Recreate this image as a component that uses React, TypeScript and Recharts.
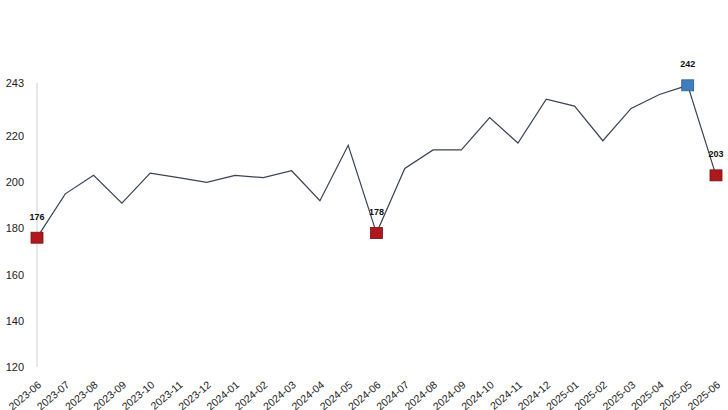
import React from 'react';
import { LineChart, Line, XAxis, YAxis } from 'recharts';

const months = [
  '2023-06', '2023-07', '2023-08', '2023-09', '2023-10', '2023-11', '2023-12',
  '2024-01', '2024-02', '2024-03', '2024-04', '2024-05', '2024-06', '2024-07',
  '2024-08', '2024-09', '2024-10', '2024-11', '2024-12', '2025-01', '2025-02',
  '2025-03', '2025-04', '2025-05', '2025-06',
];
const values = [176, 195, 203, 191, 204, 202, 200, 203, 202, 205, 192, 216, 178, 206, 214, 214, 228, 217, 236, 233, 218, 232, 238, 242, 203];
const markerKinds = ['low', '', '', '', '', '', '', '', '', '', '', '', 'low', '', '', '', '', '', '', '', '', '', '', 'high', 'low'];
const yTicks = [120, 140, 160, 180, 200, 220, 243];

const data = months.map((m, i) => ({ month: m, value: values[i], kind: markerKinds[i] }));

const FONT = '"Liberation Sans", Arial, sans-serif';

const Dot = (props: any) => {
  const { cx, cy, index, payload } = props;
  const kind = payload.kind;
  if (!kind) return <g key={`d${index}`} />;
  const fill = kind === 'high' ? '#3b7fc0' : '#b3161b';
  const stroke = kind === 'high' ? '#2a5f93' : '#7a0f12';
  return (
    <g key={`d${index}`}>
      <rect x={cx - 6} y={cy - 5.5} width={12} height={11} fill={fill} stroke={stroke} strokeWidth={0.8} />
      <text x={cx} y={cy - 18} textAnchor="middle" fontSize={9} fontWeight="bold" fill="#111" fontFamily={FONT}>
        {payload.value}
      </text>
    </g>
  );
};

const XTick = (props: any) => {
  const { x, payload } = props;
  return (
    <g transform={`translate(${x + 5},${386})`}>
      <text x={0} y={0} textAnchor="end" transform="rotate(-40)" fontSize={10.5} fill="#222" fontFamily={FONT}>
        {payload.value}
      </text>
    </g>
  );
};

export default function App() {
  return (
    <div style={{ position: 'absolute', left: 0, top: 0, width: 728, height: 410, background: '#fff' }}>
      <LineChart width={728} height={410} data={data} margin={{ top: 83, right: 12, left: 0, bottom: 0 }}>
        <XAxis dataKey="month" interval={0} height={43} axisLine={false} tickLine={false} tick={<XTick />} />
        <YAxis
          width={37}
          domain={[120, 243]}
          ticks={yTicks}
          interval={0}
          axisLine={{ stroke: '#d0d0d0' }}
          tickLine={false}
          tickMargin={7}
          tick={{ fontSize: 11, fill: '#222', fontFamily: FONT }}
        />
        <Line
          type="linear"
          dataKey="value"
          stroke="#3a4352"
          strokeWidth={1.2}
          dot={Dot}
          activeDot={false}
          isAnimationActive={false}
        />
      </LineChart>
    </div>
  );
}
